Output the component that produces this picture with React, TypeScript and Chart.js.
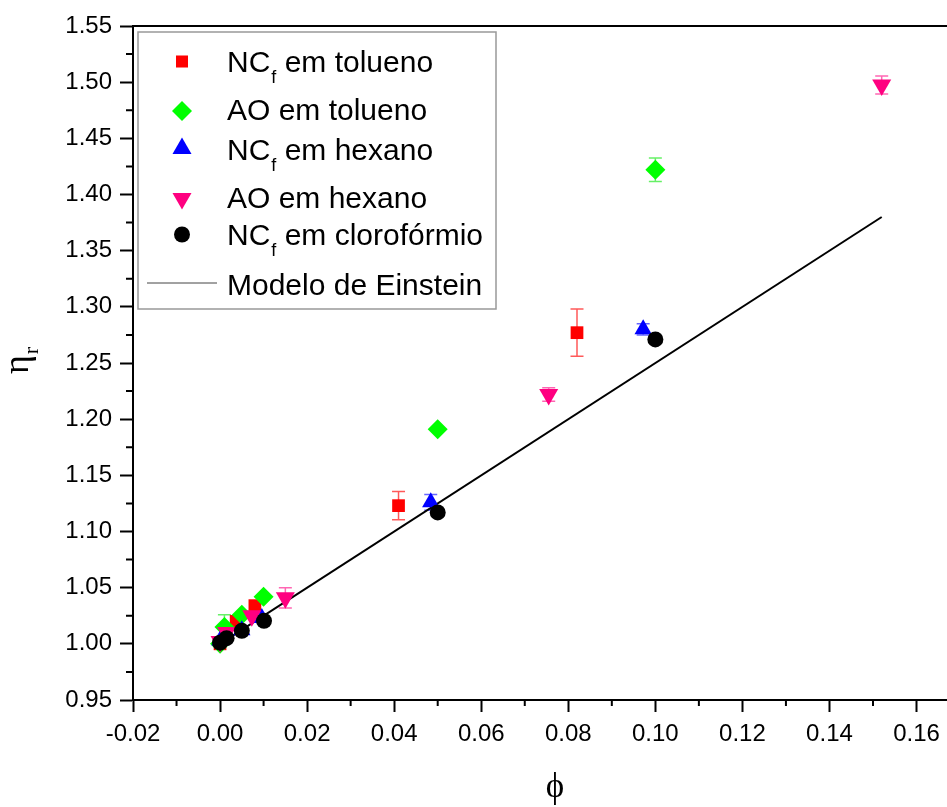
import React, { useEffect, useRef } from 'react';
import { Chart, registerables } from 'chart.js';
import { drawPoint } from 'chart.js/helpers';

Chart.register(...registerables);

// Relative viscosity (eta_r) against volume fraction (phi)
const phiNcTolueno = [0, 0.0037, 0.008, 0.041, 0.082];
const etaNcTolueno = [1.0, 1.02, 1.034, 1.123, 1.277];
const errNcTolueno = [0, 0, 0, 0.0126, 0.021];

const phiAoTolueno = [0, 0.001, 0.005, 0.01, 0.05, 0.1];
const etaAoTolueno = [1.0, 1.015, 1.026, 1.042, 1.191, 1.422];
const errAoTolueno = [0, 0.011, 0, 0, 0, 0.0105];

const phiNcHexano = [0, 0.001, 0.005, 0.0096, 0.0484, 0.0972];
const etaNcHexano = [1.003, 1.0056, 1.012, 1.023, 1.126, 1.28];
const errNcHexano = [0, 0, 0, 0, 0.007, 0.005];

const phiAoHexano = [0, 0.0015, 0.0073, 0.015, 0.0755, 0.152];
const etaAoHexano = [1.002, 1.01, 1.025, 1.041, 1.222, 1.4975];
const errAoHexano = [0, 0, 0, 0.009, 0.006, 0.008];

const phiNcCloroformio = [0, 0.0015, 0.005, 0.0101, 0.05, 0.1];
const etaNcCloroformio = [1.001, 1.005, 1.0116, 1.0205, 1.117, 1.271];
const errNcCloroformio = [0, 0, 0, 0, 0, 0];

// Einstein model end points: eta_r = 1 + 2.5 phi
const phiEinstein = [0, 0.152];
const etaEinstein = [1.0, 1.38];

const X_MIN = -0.02;
const X_MAX = 0.167;
const X_STEP = 0.02;
const Y_MIN = 0.95;
const Y_MAX = 1.55;
const Y_STEP = 0.05;

type Series = {
  main: string;
  sub: string;
  rest: string;
  phi: number[];
  eta: number[];
  err: number[];
  color: string;
  barColor: string;
  style: string;
  rotation: number;
  radius: number;
  legendRadius: number;
  order: number;
};

const series: Series[] = [
  { main: 'NC', sub: 'f', rest: ' em tolueno', phi: phiNcTolueno, eta: etaNcTolueno, err: errNcTolueno,
    color: '#ff0000', barColor: 'rgba(255,0,0,0.65)', style: 'rect', rotation: 0, radius: 9, legendRadius: 8.5, order: 5 },
  { main: 'AO em tolueno', sub: '', rest: '', phi: phiAoTolueno, eta: etaAoTolueno, err: errAoTolueno,
    color: '#00ff00', barColor: 'rgba(0,230,0,0.6)', style: 'rectRot', rotation: 0, radius: 10, legendRadius: 10, order: 4 },
  { main: 'NC', sub: 'f', rest: ' em hexano', phi: phiNcHexano, eta: etaNcHexano, err: errNcHexano,
    color: '#0000ff', barColor: 'rgba(0,0,255,0.6)', style: 'triangle', rotation: 0, radius: 10, legendRadius: 11, order: 3 },
  { main: 'AO em hexano', sub: '', rest: '', phi: phiAoHexano, eta: etaAoHexano, err: errAoHexano,
    color: '#ff0080', barColor: 'rgba(255,0,128,0.6)', style: 'triangle', rotation: 180, radius: 11, legendRadius: 11, order: 2 },
  { main: 'NC', sub: 'f', rest: ' em clorofórmio', phi: phiNcCloroformio, eta: etaNcCloroformio, err: errNcCloroformio,
    color: '#000000', barColor: 'rgba(0,0,0,0.6)', style: 'circle', rotation: 0, radius: 8, legendRadius: 8, order: 1 },
];

const LEGEND_ROWS = [72, 120, 160, 208, 245, 295];
const LEGEND_MARKER_Y = [61.5, 111, 148.5, 198.5, 234.5, 283];

const SANS = '"Liberation Sans", Arial, sans-serif';
const SERIF = '"Liberation Serif", "DejaVu Serif", serif';

const decorPlugin = {
  id: 'decor',
  beforeDatasetsDraw(chart: any) {
    const ctx: CanvasRenderingContext2D = chart.ctx;
    const xs = chart.scales.x;
    const ys = chart.scales.y;
    ctx.save();
    ctx.lineWidth = 1.5;
    for (const s of series) {
      ctx.strokeStyle = s.barColor;
      s.err.forEach((e, i) => {
        if (!e) return;
        const px = xs.getPixelForValue(s.phi[i]);
        const top = ys.getPixelForValue(s.eta[i] + e);
        const bot = ys.getPixelForValue(s.eta[i] - e);
        ctx.beginPath();
        ctx.moveTo(px, top);
        ctx.lineTo(px, bot);
        ctx.moveTo(px - 6.5, top);
        ctx.lineTo(px + 6.5, top);
        ctx.moveTo(px - 6.5, bot);
        ctx.lineTo(px + 6.5, bot);
        ctx.stroke();
      });
    }
    ctx.restore();
  },
  afterDraw(chart: any) {
    const ctx: CanvasRenderingContext2D = chart.ctx;
    const area = chart.chartArea;
    const xs = chart.scales.x;
    const ys = chart.scales.y;
    ctx.save();

    // frame along the top
    ctx.strokeStyle = '#000';
    ctx.lineWidth = 2;
    ctx.beginPath();
    ctx.moveTo(area.left - 1, area.top);
    ctx.lineTo(area.right, area.top);
    ctx.stroke();

    // minor ticks halfway between major ticks
    ctx.beginPath();
    const xt = xs.ticks.map((t: any) => t.value);
    for (let i = 0; i < xt.length; i++) {
      const v = xt[i] + X_STEP / 2;
      if (v > X_MAX) break;
      const p = xs.getPixelForValue(v);
      ctx.moveTo(p, area.bottom);
      ctx.lineTo(p, area.bottom + 6);
    }
    const yt = ys.ticks.map((t: any) => t.value);
    for (let i = 0; i < yt.length - 1; i++) {
      const p = ys.getPixelForValue(yt[i] + Y_STEP / 2);
      ctx.moveTo(area.left, p);
      ctx.lineTo(area.left - 7, p);
    }
    ctx.stroke();

    // legend
    const lx = area.left + 5;
    const ly = area.top + 6;
    ctx.fillStyle = '#fff';
    ctx.fillRect(lx, ly, 358, 277);
    ctx.strokeStyle = '#999';
    ctx.lineWidth = 1.5;
    ctx.strokeRect(lx, ly, 358, 277);

    const markerX = 182;
    const textX = 227;
    series.forEach((s, i) => {
      ctx.fillStyle = s.color;
      drawPoint(ctx, { pointStyle: s.style as any, rotation: s.rotation, radius: s.legendRadius, borderWidth: 0 } as any,
        markerX, LEGEND_MARKER_Y[i]);
      ctx.fillStyle = '#000';
      ctx.textAlign = 'left';
      ctx.textBaseline = 'alphabetic';
      let x = textX;
      ctx.font = `30px ${SANS}`;
      ctx.fillText(s.main, x, LEGEND_ROWS[i]);
      x += ctx.measureText(s.main).width;
      if (s.sub) {
        ctx.font = `18px ${SANS}`;
        ctx.fillText(s.sub, x + 1, LEGEND_ROWS[i] + 11);
        x += ctx.measureText(s.sub).width + 1;
        ctx.font = `30px ${SANS}`;
        ctx.fillText(s.rest, x, LEGEND_ROWS[i]);
      }
    });
    ctx.strokeStyle = '#444';
    ctx.lineWidth = 1;
    ctx.beginPath();
    ctx.moveTo(147, LEGEND_MARKER_Y[5]);
    ctx.lineTo(217, LEGEND_MARKER_Y[5]);
    ctx.stroke();
    ctx.fillStyle = '#000';
    ctx.font = `30px ${SANS}`;
    ctx.fillText('Modelo de Einstein', textX, LEGEND_ROWS[5]);

    // axis titles
    ctx.textAlign = 'center';
    ctx.font = `35px ${SERIF}`;
    ctx.fillText('\u03D5', 555, 797);

    ctx.translate(28, 374);
    ctx.rotate(-Math.PI / 2);
    ctx.textAlign = 'left';
    ctx.font = `36px ${SERIF}`;
    ctx.fillText('η', 0, 0);
    const w = ctx.measureText('η').width;
    ctx.font = `22px ${SERIF}`;
    ctx.fillText('r', w + 1, 10);

    ctx.restore();
  },
};

export default function App() {
  const ref = useRef<HTMLCanvasElement>(null);

  useEffect(() => {
    document.body.style.margin = '0';
    const canvas = ref.current!;
    const datasets: any[] = series.map((s) => ({
      label: s.main + s.sub + s.rest,
      data: s.phi.map((p, i) => ({ x: p, y: s.eta[i] })),
      backgroundColor: s.color,
      borderColor: s.color,
      pointStyle: s.style,
      pointRotation: s.rotation,
      pointRadius: s.radius,
      pointBorderWidth: 0,
      showLine: false,
      order: s.order,
    }));
    datasets.push({
      label: 'Modelo de Einstein',
      data: phiEinstein.map((p, i) => ({ x: p, y: etaEinstein[i] })),
      borderColor: '#000',
      borderWidth: 2,
      pointRadius: 0,
      showLine: true,
      order: 6,
    });

    const tickFont = { family: SANS, size: 24 };
    const chart = new Chart(canvas, {
      type: 'scatter',
      data: { datasets },
      options: {
        animation: false,
        responsive: false,
        devicePixelRatio: 1,
        layout: { autoPadding: false, padding: { top: 26, right: 0, left: 0, bottom: 0 } },
        plugins: { legend: { display: false }, tooltip: { enabled: false } },
        scales: {
          x: {
            type: 'linear',
            min: X_MIN,
            max: X_MAX,
            afterFit: (s: any) => { s.height = 107; s.paddingLeft = 0; s.paddingRight = 0; },
            ticks: {
              stepSize: X_STEP,
              includeBounds: false,
              autoSkip: false,
              maxRotation: 0,
              padding: 8,
              color: '#000',
              font: tickFont,
              callback: (v: any) => Number(v).toFixed(2),
            },
            grid: { drawOnChartArea: false, drawTicks: true, tickLength: 12, tickWidth: 2, tickColor: '#000' },
            border: { display: true, color: '#000', width: 2 },
          },
          y: {
            type: 'linear',
            min: Y_MIN,
            max: Y_MAX,
            afterFit: (s: any) => { s.width = 133; s.paddingTop = 0; s.paddingBottom = 0; },
            ticks: {
              stepSize: Y_STEP,
              autoSkip: false,
              padding: 8,
              color: '#000',
              font: tickFont,
              callback: (v: any) => Number(v).toFixed(2),
            },
            grid: { drawOnChartArea: false, drawTicks: true, tickLength: 13, tickWidth: 2, tickColor: '#000' },
            border: { display: true, color: '#000', width: 2 },
          },
        },
      },
      plugins: [decorPlugin],
    });
    return () => chart.destroy();
  }, []);

  return (
    <div style={{ width: 947, height: 807, overflow: 'hidden', background: '#fff' }}>
      <canvas ref={ref} width={947} height={807} style={{ display: 'block' }} />
    </div>
  );
}
